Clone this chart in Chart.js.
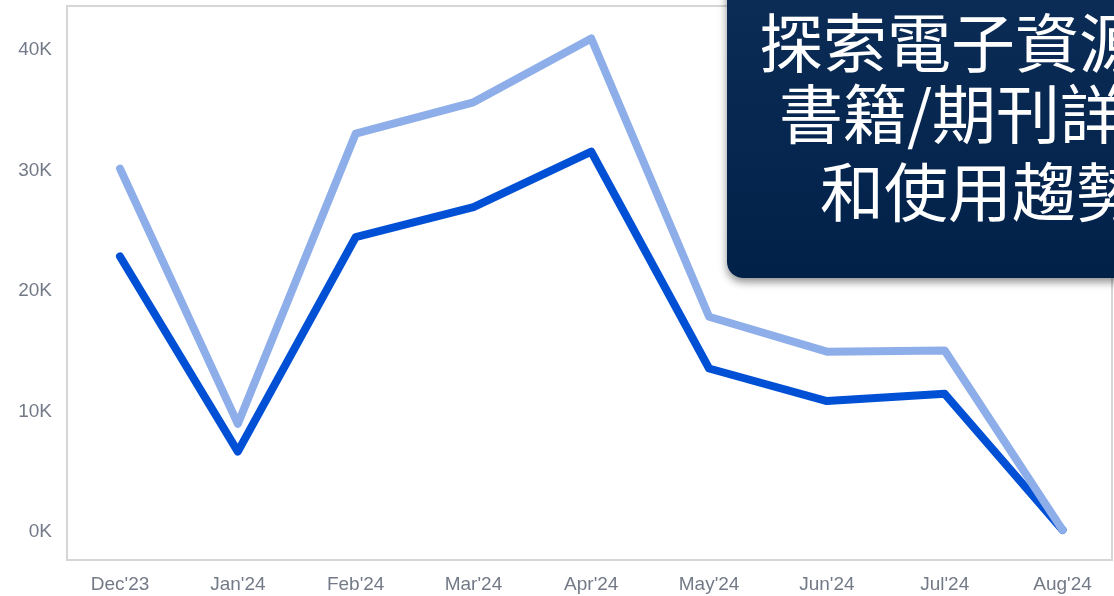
<!DOCTYPE html>
<html>
<head>
<meta charset="utf-8">
<script src="https://cdn.jsdelivr.net/npm/chart.js@4"></script>
<style>
  html, body { margin:0; padding:0; background:#fff; overflow:hidden; }
  #wrap { position:relative; width:1114px; height:596px; overflow:hidden; }
  #titleBox {
    position:absolute; left:727px; top:-30px; width:600px; height:308px;
    border-radius:16px;
    background:linear-gradient(#0c2d57, #012149);
    box-shadow:0 4px 8px rgba(0,0,0,0.45);
    overflow:hidden;
  }
  .ln {
    position:absolute; white-space:nowrap; color:#fff;
    font-family:"Noto Sans CJK TC", "Noto Sans CJK SC", sans-serif;
    font-size:64px; line-height:64px;
  }
</style>
</head>
<body>
<div id="wrap">
  <canvas id="chartPakai" width="1114" height="596"></canvas>
  <div id="titleBox">
    <div class="ln" style="left:32px; top:37px;">探索電子資源</div>
    <div class="ln" style="left:52px; top:108px;">書籍/期刊詳</div>
    <div class="ln" style="left:93px; top:186px;">和使用趨勢</div>
  </div>
</div>
<script>
// data
const bulan = ["Dec'23", "Jan'24", "Feb'24", "Mar'24", "Apr'24", "May'24", "Jun'24", "Jul'24", "Aug'24"];
const totalTerang = [30000, 8800, 32900, 35500, 40800, 17700, 14800, 14900, 0];
const totalGelap = [22700, 6500, 24300, 26800, 31400, 13400, 10700, 11300, 0];
const tickY = [0, 10000, 20000, 30000, 40000];

// titik per bulan, x = index
function jadiTitik(arr){
  return arr.map((v, i) => ({x: i, y: v}));
}

// kotak di sekeliling area grafik
const bingkai = {
  id: 'bingkai',
  afterDraw(c){
    const a = c.chartArea;
    const ctx = c.ctx;
    ctx.save();
    ctx.strokeStyle = '#d6d6d6';
    ctx.lineWidth = 2;
    ctx.strokeRect(a.left, a.top, a.right - a.left, a.bottom - a.top);
    ctx.restore();
  }
};

const warnaTeks = '#737a87';
const hurufTeks = {family: '"Liberation Sans", Arial, sans-serif', size: 19};

function nolPadding(s){
  s.paddingTop = 0;
  s.paddingBottom = 0;
  s.paddingLeft = 0;
  s.paddingRight = 0;
}

new Chart(document.getElementById('chartPakai'), {
  type: 'line',
  data: {
    datasets: [
      {
        data: jadiTitik(totalTerang),
        borderColor: '#8eaeea',
        borderWidth: 8
      },
      {
        data: jadiTitik(totalGelap),
        borderColor: '#0050d6',
        borderWidth: 8
      }
    ]
  },
  options: {
    responsive: false,
    animation: false,
    layout: {padding: {top: 6, right: 2, left: 0, bottom: 0}},
    elements: {
      line: {tension: 0, borderCapStyle: 'round', borderJoinStyle: 'round', fill: false},
      point: {radius: 0, hoverRadius: 0}
    },
    plugins: {legend: {display: false}, tooltip: {enabled: false}},
    scales: {
      x: {
        type: 'linear',
        min: -0.45,
        max: 8.42,
        grid: {display: false, drawTicks: false},
        border: {display: false},
        afterBuildTicks: s => { s.ticks = bulan.map((b, i) => ({value: i})); },
        afterFit: s => { s.height = 36; nolPadding(s); },
        ticks: {
          autoSkip: false,
          maxRotation: 0,
          padding: 13,
          color: warnaTeks,
          font: hurufTeks,
          callback: v => bulan[v]
        }
      },
      y: {
        min: -2500,
        max: 43500,
        grid: {display: false, drawTicks: false},
        border: {display: false},
        afterBuildTicks: s => { s.ticks = tickY.map(v => ({value: v})); },
        afterFit: s => { s.width = 67; nolPadding(s); },
        ticks: {
          padding: 15,
          labelOffset: 2,
          color: warnaTeks,
          font: hurufTeks,
          callback: v => (v / 1000) + 'K'
        }
      }
    }
  },
  plugins: [bingkai]
});
</script>
</body>
</html>
